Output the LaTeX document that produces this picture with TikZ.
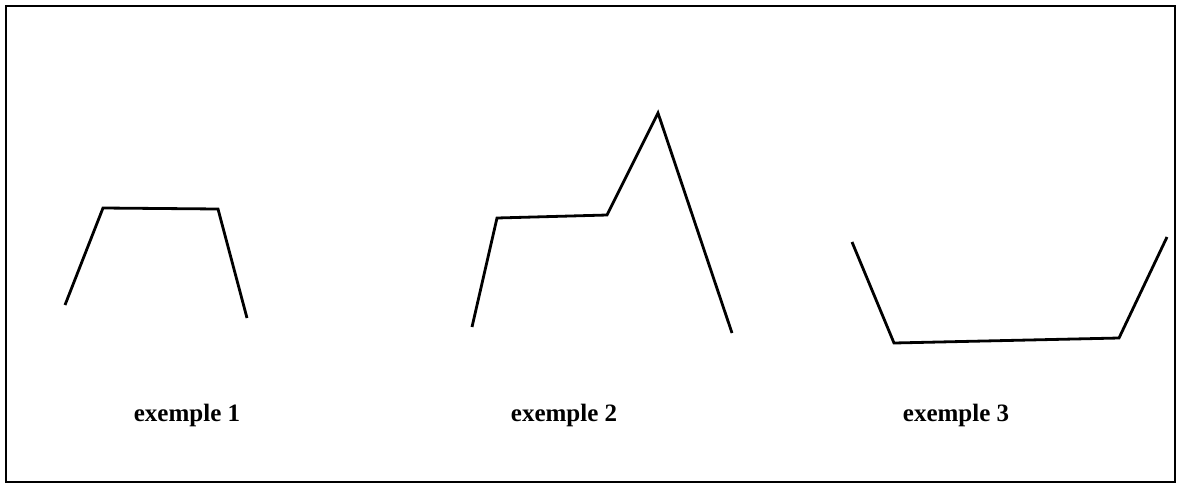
\documentclass[tikz,border=0pt]{standalone}
\usepackage{fontspec}
\setmainfont{Liberation Serif}
\begin{document}
\begin{tikzpicture}[x=1pt,y=-1pt,
  curve/.style={line width=2.8pt,line join=miter,line cap=butt},
  frame/.style={line width=2pt},
  caption/.style={font=\fontsize{25}{29}\selectfont\bfseries,inner sep=0pt}]
\useasboundingbox (0,0) rectangle (1177,485);
\draw[frame] (5.5,5.5) rectangle (1175,482);
% exemple 1
\draw[curve] (65,305) -- (103,208) -- (218,209) -- (247,318);
% exemple 2
\draw[curve] (472,327) -- (497,218) -- (607,215) -- (658,113) -- (732,333);
% exemple 3
\draw[curve] (852,242) -- (894,343) -- (1119,338) -- (1167,237);
\node[caption] (c1) at (187,415) {exemple 1};
\node[caption] (c2) at (564,415) {exemple 2};
\node[caption] (c3) at (956,415) {exemple 3};
\end{tikzpicture}
\end{document}
